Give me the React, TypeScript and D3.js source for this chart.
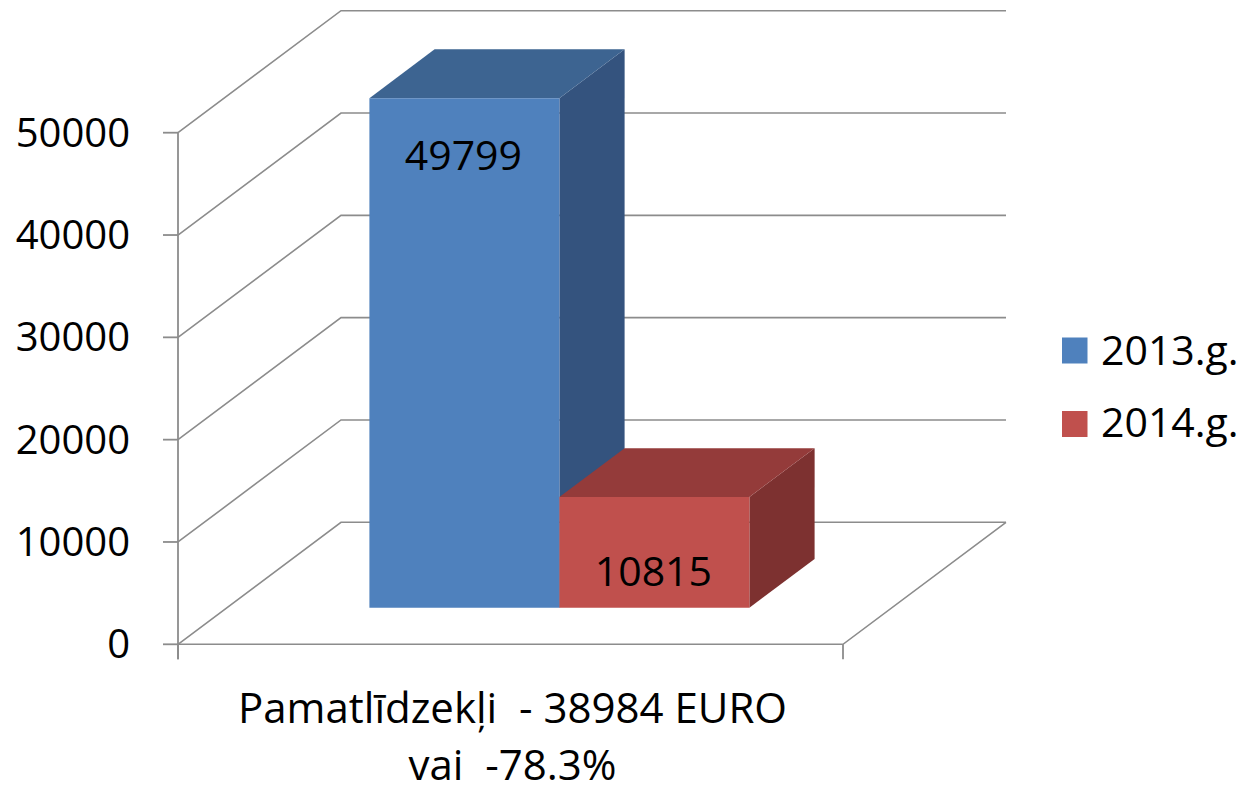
import React from "react";
import * as d3 from "d3";

const categories = ["Pamatlīdzekļi  - 38984 EURO|vai  -78.3%"];
const seriesNames = ["2013.g.", "2014.g."];
const seriesValues = [[49799], [10815]];
const yTicks = [0, 10000, 20000, 30000, 40000, 50000];

const W = 1245;
const H = 786;
const FRONT_X0 = 178;
const FRONT_X1 = 843;
const Y0 = 644.3;
const Y50 = 132.7;
const DEPTH_DX = 163;
const DEPTH_DY = -122;
const BAR_D0 = 0.3;
const BAR_D1 = 0.7;
const FONT = "'Open Sans', 'Noto Sans', sans-serif";
const GRID = "#8c8c8c";

const faceColors = [
  { front: "#4F81BD", top: "#3D6491", side: "#34537E" },
  { front: "#C0504D", top: "#943B3A", side: "#7D3130" },
];
const labelOffsets = [72, 89];

export default function App() {
  const y = d3.scaleLinear().domain([0, 50000]).range([Y0, Y50]);
  const xCat = d3.scaleBand().domain(categories).range([FRONT_X0, FRONT_X1]).padding(0);
  const xSer = d3
    .scaleBand()
    .domain(seriesNames)
    .range([xCat(categories[0])!, xCat(categories[0])! + xCat.bandwidth()])
    .paddingInner(0)
    .paddingOuter(0.75);

  const P = (x: number, v: number, d: number): [number, number] => [
    x + d * DEPTH_DX,
    y(v) + d * DEPTH_DY,
  ];
  const poly = (pts: [number, number][]) => pts.map((p) => p.join(",")).join(" ");

  const gridLines = yTicks.map((t) => {
    const a = P(FRONT_X0, t, 0);
    const b = P(FRONT_X0, t, 1);
    const c = P(FRONT_X1, t, 1);
    return poly([a, b, c]);
  });

  const bw = xSer.bandwidth();
  const [catLine1, catLine2] = categories[0].split("|");
  const catCenter = xCat(categories[0])! + xCat.bandwidth() / 2;

  return (
    <svg
      width={W}
      height={H}
      style={{ position: "absolute", left: 0, top: 0, background: "#fff" }}
      fontFamily={FONT}
    >
      {gridLines.map((pts, i) => (
        <polyline key={i} points={pts} fill="none" stroke={GRID} strokeWidth={1.6} />
      ))}
      <polyline
        points={poly([P(FRONT_X0, 0, 0), P(FRONT_X1, 0, 0), P(FRONT_X1, 0, 1)])}
        fill="none"
        stroke={GRID}
        strokeWidth={1.6}
      />
      <line x1={FRONT_X0} x2={FRONT_X0} y1={y(50000)} y2={y(0) + 15} stroke={GRID} strokeWidth={1.8} />
      {yTicks.map((t) => (
        <g key={t}>
          <line x1={FRONT_X0 - 15} x2={FRONT_X0} y1={y(t)} y2={y(t)} stroke={GRID} strokeWidth={1.8} />
          <text x={130} y={y(t) + 14} textAnchor="end" fontSize={40} fill="#000">
            {t}
          </text>
        </g>
      ))}
      {[FRONT_X0, FRONT_X1].map((x) => (
        <line key={x} x1={x} x2={x} y1={y(0)} y2={y(0) + 15} stroke={GRID} strokeWidth={1.8} />
      ))}
      {seriesNames.map((s, i) => {
        const v = seriesValues[i][0];
        const x0 = xSer(s)!;
        const x1 = x0 + bw;
        const c = faceColors[i];
        const front = poly([P(x0, 0, BAR_D0), P(x1, 0, BAR_D0), P(x1, v, BAR_D0), P(x0, v, BAR_D0)]);
        const top = poly([P(x0, v, BAR_D0), P(x1, v, BAR_D0), P(x1, v, BAR_D1), P(x0, v, BAR_D1)]);
        const side = poly([P(x1, 0, BAR_D0), P(x1, 0, BAR_D1), P(x1, v, BAR_D1), P(x1, v, BAR_D0)]);
        const [lx] = P(x0 + bw / 2, v, BAR_D0);
        const [, ly] = P(x0, v, BAR_D0);
        return (
          <g key={s}>
            <polygon points={side} fill={c.side} />
            <polygon points={top} fill={c.top} />
            <polygon points={front} fill={c.front} />
            <text x={lx - 1} y={ly + labelOffsets[i]} textAnchor="middle" fontSize={41} fill="#000">
              {v}
            </text>
          </g>
        );
      })}
      <text x={catCenter + 2} y={723} textAnchor="middle" fontSize={42} fill="#000" style={{ whiteSpace: "pre" }}>
        {catLine1}
      </text>
      <text x={catCenter + 2} y={780} textAnchor="middle" fontSize={42} fill="#000" style={{ whiteSpace: "pre" }}>
        {catLine2}
      </text>
      {seriesNames.map((s, i) => (
        <g key={s}>
          <rect x={1062} y={337.5 + i * 73.5} width={25.5} height={26} fill={faceColors[i].front} />
          <text x={1101} y={365 + i * 72} fontSize={41} fill="#000">
            {s}
          </text>
        </g>
      ))}
    </svg>
  );
}
